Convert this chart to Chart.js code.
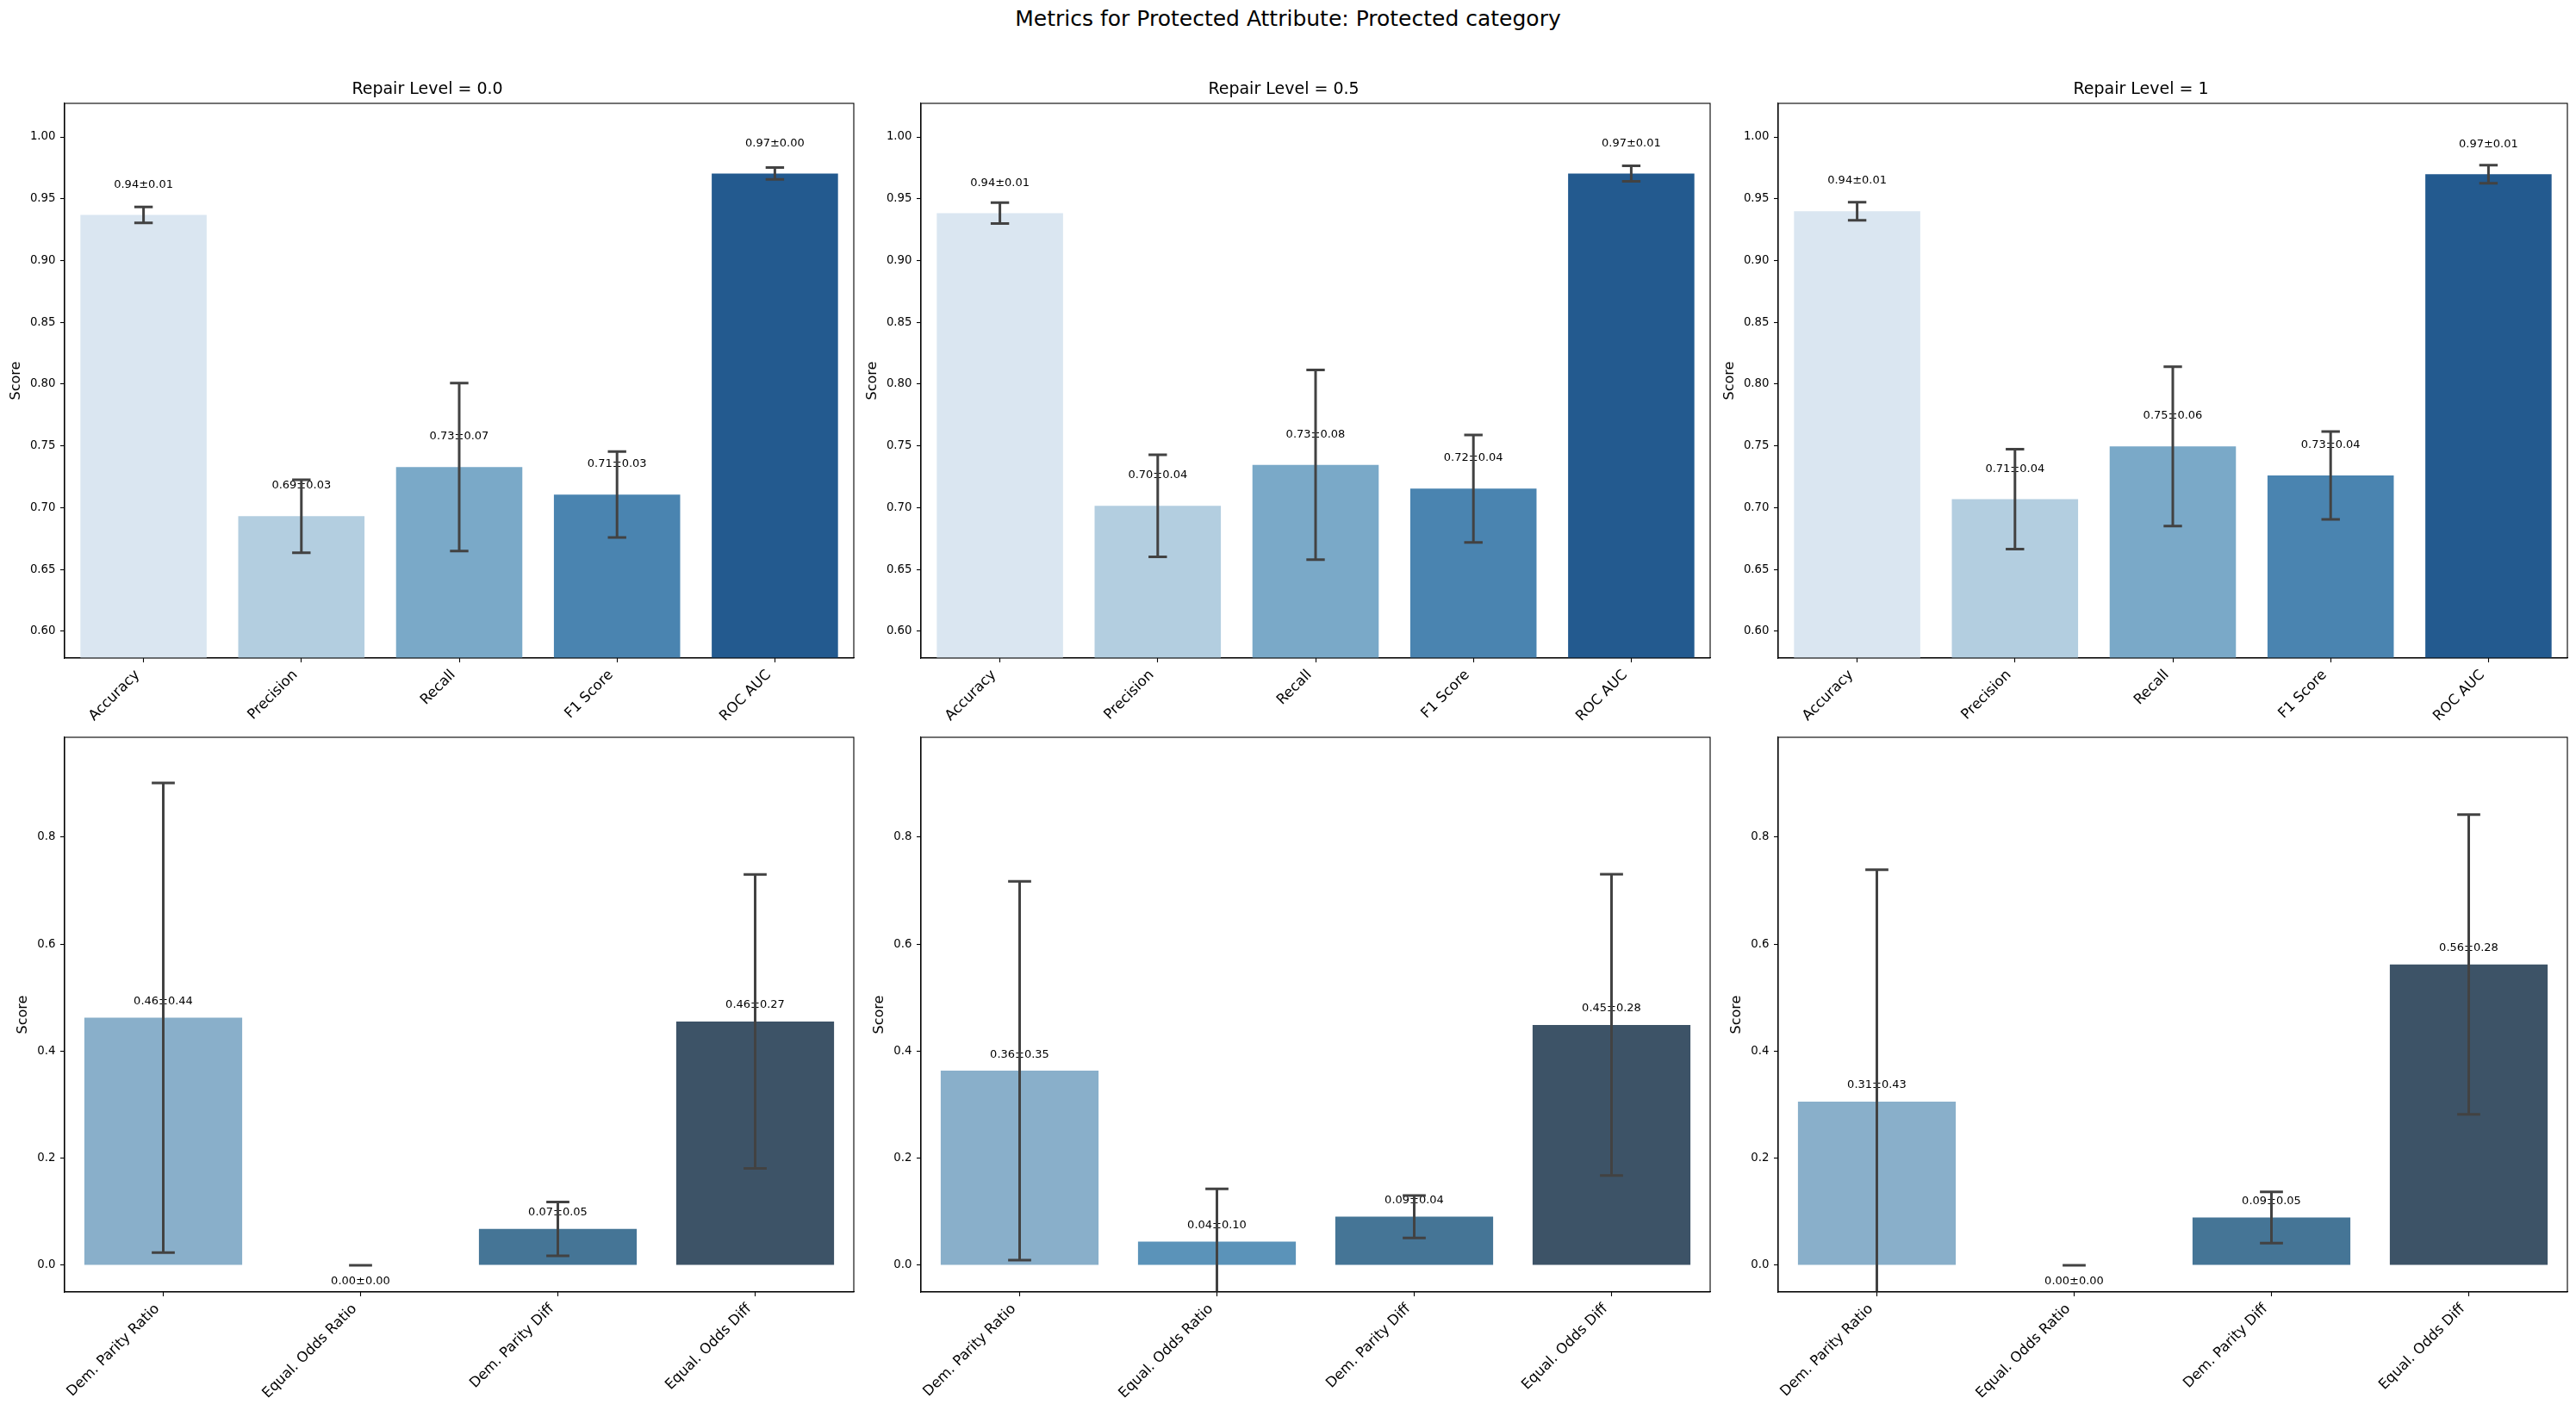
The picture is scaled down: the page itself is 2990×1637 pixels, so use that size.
<!DOCTYPE html>
<html>
<head>
<meta charset="utf-8">
<script src="https://cdn.jsdelivr.net/npm/chart.js@4.4.1/dist/chart.umd.min.js"></script>
<style>
  html, body { margin: 0; padding: 0; background: #ffffff; }
  body { width: 2990px; height: 1637px; position: relative; overflow: hidden; font-family: "DejaVu Sans", sans-serif; }
  canvas { position: absolute; }
  #suptitle { position: absolute; left: 0; top: 7px; width: 2990px; text-align: center; font-size: 25px; line-height: 30px; color: #000; }
</style>
</head>
<body>
<div id="suptitle">Metrics for Protected Attribute: Protected category</div>
<canvas id="p00" width="998" height="814" style="left:1px;top:80px;width:998px;height:814px;"></canvas>
<canvas id="p01" width="998" height="814" style="left:995px;top:80px;width:998px;height:814px;"></canvas>
<canvas id="p02" width="998" height="814" style="left:1990px;top:80px;width:998px;height:814px;"></canvas>
<canvas id="p10" width="998" height="814" style="left:1px;top:816px;width:998px;height:814px;"></canvas>
<canvas id="p11" width="998" height="814" style="left:995px;top:816px;width:998px;height:814px;"></canvas>
<canvas id="p12" width="998" height="814" style="left:1990px;top:816px;width:998px;height:814px;"></canvas>
<script>
// ---------------- DATA ----------------
const repairLevels = ['0.0', '0.5', '1'];
const perfCategories = ['Accuracy', 'Precision', 'Recall', 'F1 Score', 'ROC AUC'];
const fairCategories = ['Dem. Parity Ratio', 'Equal. Odds Ratio', 'Dem. Parity Diff', 'Equal. Odds Diff'];

const perfMean_r00 = [0.9369, 0.6931, 0.7329, 0.7106, 0.9704];
const perfStd_r00  = [0.0064, 0.0295, 0.0680, 0.0348, 0.0048];
const perfMean_r05 = [0.9384, 0.7015, 0.7347, 0.7154, 0.9704];
const perfStd_r05  = [0.0085, 0.0413, 0.0768, 0.0435, 0.0062];
const perfMean_r10 = [0.9399, 0.7069, 0.7496, 0.7261, 0.9698];
const perfStd_r10  = [0.0074, 0.0405, 0.0645, 0.0356, 0.0073];

const fairMean_r00 = [0.4625, 0.0000, 0.0679, 0.4556];
const fairStd_r00  = [0.4389, 0.0000, 0.0503, 0.2745];
const fairMean_r05 = [0.3636, 0.0442, 0.0908, 0.4491];
const fairStd_r05  = [0.3538, 0.0985, 0.0397, 0.2814];
const fairMean_r10 = [0.3059, 0.0000, 0.0892, 0.5620];
const fairStd_r10  = [0.4330, 0.0000, 0.0479, 0.2800];

const perfTicks = [0.60, 0.65, 0.70, 0.75, 0.80, 0.85, 0.90, 0.95, 1.00];
const fairTicks = [0.0, 0.2, 0.4, 0.6, 0.8];
const perfLimits = [0.5783, 1.0272];
const fairLimits = [-0.0499, 0.9865];

// ---------------- STYLE ----------------
const perfColors = ['#dae6f1', '#b3cee0', '#7aa9c8', '#4a84b0', '#235a8f'];
const fairColors = ['#89afca', '#5b93b9', '#457596', '#3d5367'];
const FONT = 'DejaVu Sans';
Chart.defaults.font.family = FONT;
Chart.defaults.color = '#000';

const errorBarPlugin = {
  id: 'errorBars',
  afterDatasetsDraw(chart, args, opts) {
    const ctx = chart.ctx;
    const area = chart.chartArea;
    const xs = chart.scales.x, ys = chart.scales.y;
    const meta = chart.getDatasetMeta(0);
    const means = chart.data.datasets[0].data;
    const stds = opts.stds || [];
    // value labels
    ctx.save();
    ctx.font = '13px "' + FONT + '"';
    ctx.fillStyle = '#000';
    ctx.textAlign = 'center';
    means.forEach((m, i) => {
      const x = xs.getPixelForValue(i);
      const txt = m.toFixed(2) + '\u00b1' + stds[i].toFixed(2);
      if (m > 0) {
        ctx.textBaseline = 'bottom';
        ctx.fillText(txt, x, ys.getPixelForValue(m + 0.02));
      } else {
        ctx.textBaseline = 'top';
        ctx.fillText(txt, x, ys.getPixelForValue(m - 0.02));
      }
    });
    ctx.restore();
    // error bars (clipped to the axes)
    ctx.save();
    ctx.beginPath();
    ctx.rect(area.left, area.top, area.right - area.left, area.bottom - area.top);
    ctx.clip();
    ctx.strokeStyle = '#424242';
    ctx.lineWidth = 3;
    means.forEach((m, i) => {
      const x = xs.getPixelForValue(i);
      const bw = meta.data[i].width;
      const half = bw * 0.073;
      const yHi = ys.getPixelForValue(m + stds[i]);
      const yLo = ys.getPixelForValue(m - stds[i]);
      ctx.beginPath();
      ctx.moveTo(x, yHi); ctx.lineTo(x, yLo);
      ctx.moveTo(x - half, yHi); ctx.lineTo(x + half, yHi);
      ctx.moveTo(x - half, yLo); ctx.lineTo(x + half, yLo);
      ctx.stroke();
    });
    ctx.restore();
    // spines
    ctx.save();
    ctx.strokeStyle = '#000';
    ctx.lineWidth = 1.1;
    ctx.strokeRect(area.left, area.top, area.right - area.left, area.bottom - area.top);
    ctx.restore();
  }
};

function makePanel(id, categories, means, stds, colors, limits, ticks, decimals, title, scorePad) {
  const ctx = document.getElementById(id).getContext('2d');
  return new Chart(ctx, {
    type: 'bar',
    data: {
      labels: categories,
      datasets: [{ data: means, backgroundColor: colors, borderWidth: 0, barPercentage: 0.8, categoryPercentage: 1.0 }]
    },
    options: {
      responsive: false,
      animation: false,
      devicePixelRatio: 1,
      layout: { padding: { top: title ? 0 : 40, right: 8, left: 0, bottom: 0 } },
      plugins: {
        legend: { display: false },
        tooltip: { enabled: false },
        title: title ? { display: true, text: title, color: '#000', font: { size: 19, weight: 'normal', family: FONT }, padding: { top: 13, bottom: 4.2 } } : { display: false },
        errorBars: { stds: stds }
      },
      scales: {
        x: {
          type: 'category',
          offset: true,
          grid: { display: true, offset: false, drawOnChartArea: false, drawTicks: true, tickLength: 5, tickWidth: 1.1, tickColor: '#000' },
          border: { display: true, color: '#000', width: 1.1 },
          ticks: { autoSkip: false, minRotation: 45, maxRotation: 45, padding: 5, labelOffset: -7, color: '#000', font: { size: 16.5, family: FONT } },
          afterFit: s => { s.height = 130; }
        },
        y: {
          type: 'linear',
          min: limits[0],
          max: limits[1],
          grid: { display: true, drawOnChartArea: false, drawTicks: true, tickLength: 5, tickWidth: 1.1, tickColor: '#000' },
          border: { display: true, color: '#000', width: 1.1 },
          ticks: { padding: 5.5, color: '#000', font: { size: 13.3, family: FONT }, includeBounds: false, callback: v => Number(v).toFixed(decimals) },
          afterBuildTicks: s => { s.ticks = ticks.map(v => ({ value: v })); },
          title: { display: true, text: 'Score', color: '#000', font: { size: 16, family: FONT }, padding: { top: scorePad, bottom: 0 } },
          afterFit: s => { s.width = 74; }
        }
      }
    },
    plugins: [errorBarPlugin]
  });
}

makePanel('p00', perfCategories, perfMean_r00, perfStd_r00, perfColors, perfLimits, perfTicks, 2, 'Repair Level = ' + repairLevels[0], 8);
makePanel('p01', perfCategories, perfMean_r05, perfStd_r05, perfColors, perfLimits, perfTicks, 2, 'Repair Level = ' + repairLevels[1], 8);
makePanel('p02', perfCategories, perfMean_r10, perfStd_r10, perfColors, perfLimits, perfTicks, 2, 'Repair Level = ' + repairLevels[2], 8);
makePanel('p10', fairCategories, fairMean_r00, fairStd_r00, fairColors, fairLimits, fairTicks, 1, null, 16.4);
makePanel('p11', fairCategories, fairMean_r05, fairStd_r05, fairColors, fairLimits, fairTicks, 1, null, 16.4);
makePanel('p12', fairCategories, fairMean_r10, fairStd_r10, fairColors, fairLimits, fairTicks, 1, null, 16.4);
</script>
</body>
</html>
